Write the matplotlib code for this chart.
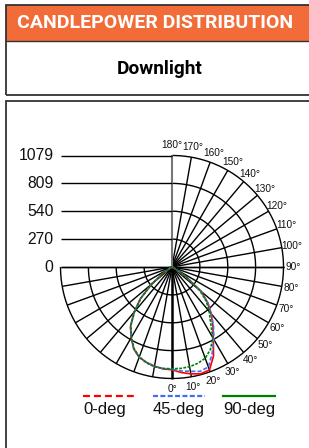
import numpy as np
import matplotlib
matplotlib.use("Agg")
import matplotlib.pyplot as plt
from matplotlib.lines import Line2D
from matplotlib.patches import Rectangle

plt.rcParams["lines.scale_dashes"] = False

# candela values, every 5 deg from nadir (0) to horizontal (90)
angles = np.arange(0, 95, 5)
red_right = [995, 1025, 1050, 1070, 1060, 950, 800, 690, 590, 490, 370, 170, 40, 10, 4, 2, 1, 0, 0]
red_left = [995, 990, 975, 955, 930, 875, 790, 700, 570, 430, 260, 100, 25, 8, 3, 1, 0, 0, 0]
blue_right = [990, 1010, 1025, 1045, 1030, 920, 810, 700, 590, 490, 365, 165, 38, 10, 4, 2, 1, 0, 0]
blue_left = [990, 988, 975, 955, 930, 875, 790, 700, 570, 430, 260, 100, 25, 8, 3, 1, 0, 0, 0]
green_right = [985, 985, 980, 965, 940, 880, 790, 650, 560, 470, 350, 160, 35, 10, 4, 2, 1, 0, 0]
green_left = [985, 985, 980, 960, 925, 870, 785, 695, 565, 425, 255, 95, 22, 8, 3, 1, 0, 0, 0]

plane_names = ["0-deg", "45-deg", "90-deg"]
plane_colors = ["#ff0000", "#3d6ff5", "#008000"]

ring_values = [270, 540, 809, 1079]
tick_labels = ["1079", "809", "540", "270", "0"]
max_cd = 1079

# figure and pixel layout
W, H, DPI = 309, 448, 100
cx, cy, R_px = 172, 267, 111.5
s = max_cd / R_px

fig = plt.figure(figsize=(W / DPI, H / DPI), dpi=DPI)
ax = fig.add_axes([0, 0, 1, 1])
ax.set_xlim(-cx * s, (W - cx) * s)
ax.set_ylim(-(H - cy) * s, cy * s)
ax.axis("off")

# header boxes (figure pixel coords -> fraction)
def fx(px):
    return px / W


def fy(py):
    return 1 - py / H


edge = "#333333"
fig.patches.append(Rectangle((fx(5.5), fy(41)), fx(320), fy(5.5) - fy(41), transform=fig.transFigure,
                             facecolor="#f26c39", edgecolor="none", zorder=0))
fig.patches.append(Rectangle((fx(5.5), fy(95)), fx(320), fy(5.5) - fy(95), transform=fig.transFigure,
                             facecolor="none", edgecolor=edge, lw=1.3, zorder=1))
fig.add_artist(Line2D([fx(5.5), 1], [fy(41), fy(41)], color=edge, lw=1.0, transform=fig.transFigure))
fig.patches.append(Rectangle((fx(5.5), fy(470)), fx(320), fy(100.5) - fy(470), transform=fig.transFigure,
                             facecolor="none", edgecolor=edge, lw=1.3, zorder=1))
fig.text(fx(17), fy(23.5), "CANDLEPOWER DISTRIBUTION", color="white", fontsize=14,
         fontweight="bold", family="Roboto", ha="left", va="center")
fig.text(fx(160), fy(69), "Downlight", color="black", fontsize=13.7,
         fontweight="bold", family="Roboto", ha="center", va="center")

grid_kw = dict(color="black", lw=1.0, solid_capstyle="butt", zorder=2)
th = np.radians(np.linspace(-90, 90, 181))

# lower half: rings, spokes
for r in ring_values:
    ax.plot(r * np.sin(th), -r * np.cos(th), **grid_kw)
for a in range(-90, 91, 10):
    t = np.radians(a)
    lw = 1.8 if a == 0 else 1.0
    ax.plot([0, max_cd * np.sin(t)], [0, -max_cd * np.cos(t)], color="black", lw=lw,
            solid_capstyle="butt", zorder=2)

# upper right quadrant: rings and spokes
thq = np.radians(np.linspace(90, 180, 91))
for r in ring_values:
    ax.plot(r * np.sin(thq), -r * np.cos(thq), **grid_kw)
for a in range(90, 180, 10):
    t = np.radians(a)
    ax.plot([0, max_cd * np.sin(t)], [0, -max_cd * np.cos(t)], **grid_kw)
ax.plot([0, 0], [0, max_cd], color="#777777", lw=1.5, zorder=2)

# upper left: horizontal value lines with labels
for v, lab in zip([1079, 809, 540, 270, 0], tick_labels):
    ax.plot([-max_cd, 0], [v, v], **grid_kw)
    ax.text(-max_cd - 7 * s, v, lab, ha="right", va="center", fontsize=11.3,
            family="Liberation Sans", color="#111111")

# angle labels
for a in range(0, 181, 10):
    t = np.radians(a)
    rr = max_cd * 1.09
    ax.text(rr * np.sin(t), -rr * np.cos(t), f"{a}\u00b0", ha="center", va="center",
            fontsize=7.3, family="Liberation Sans", color="#111111")

# curves
styles = ["-", (0, (3, 1.5)), (0, (2, 1))]
for name, col, ls, left, right in zip(plane_names, plane_colors, styles,
                                      [red_left, blue_left, green_left],
                                      [red_right, blue_right, green_right]):
    ang = np.radians(np.concatenate([-angles[::-1], angles[1:]]))
    val = np.concatenate([np.array(left)[::-1], np.array(right)[1:]])
    ax.plot(val * np.sin(ang), -val * np.cos(ang), color=col, lw=1.2, ls=ls, zorder=4)

# legend below chart
legend_x = [83, 153, 223]
legend_dash = [(5, 2.9), (3.6, 1.7), None]
for x0, name, col, d in zip(legend_x, plane_names, plane_colors, legend_dash):
    ln = Line2D([fx(x0), fx(x0 + 52)], [fy(396), fy(396)], color=col, lw=1.6,
                transform=fig.transFigure)
    if d is not None:
        ln.set_dashes(d)
    fig.add_artist(ln)
    fig.text(fx(x0), fy(409), name, ha="left", va="center", fontsize=12,
             family="Liberation Sans", color="#111111")

fig.savefig("out.png", dpi=DPI)
